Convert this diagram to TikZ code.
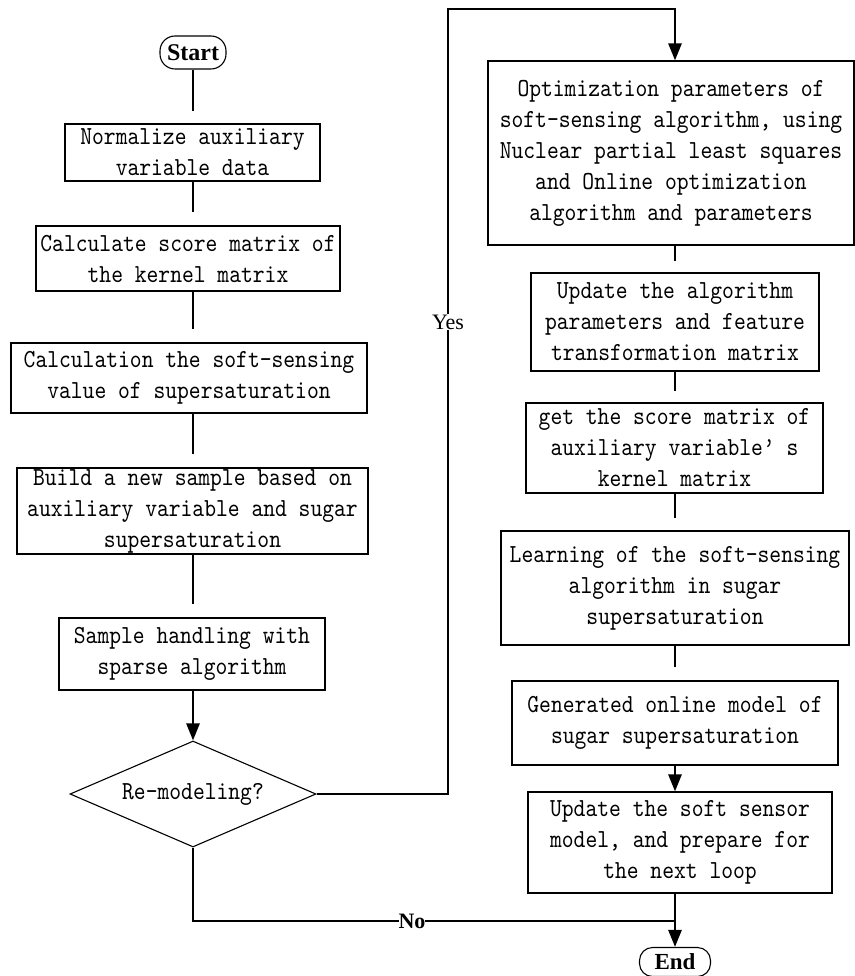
\documentclass[tikz,border=0pt]{standalone}
\usepackage{fontspec}
\usetikzlibrary{shapes.geometric,arrows.meta,calc}
\newfontfamily\flowserif{Liberation Serif}
\newfontfamily\flowmono[FakeStretch=0.865]{lmmono10-regular.otf}
\begin{document}
\begin{tikzpicture}[x=1pt,y=-1pt,
  box/.style={draw, line width=1.1pt, inner sep=0pt, align=center,
    font=\flowmono\fontsize{26}{31}\selectfont},
  term/.style={draw, line width=1.1pt, inner sep=0pt,
    font=\flowserif\bfseries\fontsize{24}{28}\selectfont},
  decision/.style={draw, diamond, aspect=2.32, line width=1.1pt, inner sep=0pt,
    font=\flowmono\fontsize{26}{31}\selectfont},
  conn/.style={line width=2.6pt},
  arr/.style={line width=2.6pt, -{Triangle[length=17pt,width=13pt]}},
  lab/.style={fill=white, inner sep=1pt}
]
\useasboundingbox (0,0) rectangle (854,976);

\coordinate (lx) at (193,0);
\coordinate (rx) at (675,0);

% left column
\node[term, rounded corners=15pt, minimum width=66pt, minimum height=33pt] (start) at (193,52.5) {Start};
\node[box, minimum width=255pt, minimum height=57pt] (b1) at (192.5,152.5) {Normalize auxiliary\\variable data};
\node[box, minimum width=304pt, minimum height=65pt] (b2) at (188,258.5) {Calculate score matrix of\\the kernel matrix};
\node[box, minimum width=356pt, minimum height=70pt] (b3) at (189,378) {Calculation the soft-sensing\\value of supersaturation};
\node[box, minimum width=351pt, minimum height=86pt] (b4) at (192.5,511) {Build a new sample based on\\auxiliary variable and sugar\\supersaturation};
\node[box, minimum width=266pt, minimum height=72pt] (b5) at (192,654) {Sample handling with\\sparse algorithm};
\node[decision, minimum width=246pt, minimum height=106pt] (dia) at (193,794) {Re-modeling?};

% right column
\node[box, minimum width=366pt, minimum height=184pt] (r1) at (671,153) {Optimization parameters of\\soft-sensing algorithm, using\\Nuclear partial least squares\\and Online optimization\\algorithm and parameters};
\node[box, minimum width=288pt, minimum height=98pt] (r2) at (675,322) {Update the algorithm\\parameters and feature\\transformation matrix};
\node[box, minimum width=297pt, minimum height=90pt] (r3) at (674.5,448) {get the score matrix of\\auxiliary variable’ s\\kernel matrix};
\node[box, minimum width=348pt, minimum height=114pt] (r4) at (675,588) {Learning of the soft-sensing\\algorithm in sugar\\supersaturation};
\node[box, minimum width=326pt, minimum height=84pt] (r5) at (675,723) {Generated online model of\\sugar supersaturation};
\node[box, minimum width=304pt, minimum height=101pt] (r6) at (680,842.5) {Update the soft sensor\\model, and prepare for\\the next loop};
\node[term, rounded corners=13pt, minimum width=71pt, minimum height=29pt, font=\flowserif\bfseries\fontsize{23}{27}\selectfont] (endn) at (675,962) {End};

\coordinate (ytop) at (448,9);
\coordinate (join) at (675,921);

% left stubs
\draw[conn] (start.south) -- ($(b1.north -| lx)+(0,-12)$);
\draw[conn] (b1.south -| lx) -- ($(b2.north -| lx)+(0,-13)$);
\draw[conn] (b2.south -| lx) -- ($(b3.north -| lx)+(0,-13)$);
\draw[conn] (b3.south -| lx) -- ($(b4.north -| lx)+(0,-13)$);
\draw[conn] (b4.south -| lx) -- ($(b5.north -| lx)+(0,-13)$);
\draw[arr] (b5.south -| lx) -- (dia.north);

% right stubs
\draw[conn] (r1.south -| rx) -- ($(r2.north -| rx)+(0,-11)$);
\draw[conn] (r2.south -| rx) -- ($(r3.north -| rx)+(0,-11)$);
\draw[conn] (r3.south -| rx) -- ($(r4.north -| rx)+(0,-12)$);
\draw[conn] (r4.south -| rx) -- ($(r5.north -| rx)+(0,-13)$);
\draw[arr] (r5.south -| rx) -- (r6.north -| rx);
\draw[conn] (r6.south -| rx) -- (join);

% yes / no branches
\draw[arr] (dia.east) -| (ytop) -| (r1.north -| rx);
\draw[conn] (dia.south) |- (join);
\draw[arr] (join) -- (endn.north);

\node[lab, font=\flowserif\fontsize{22}{24}\selectfont] (yes) at (448,322) {Yes};
\node[lab, inner sep=0pt, font=\flowserif\bfseries\fontsize{22}{24}\selectfont] (no) at (412,921) {No};
\end{tikzpicture}
\end{document}
